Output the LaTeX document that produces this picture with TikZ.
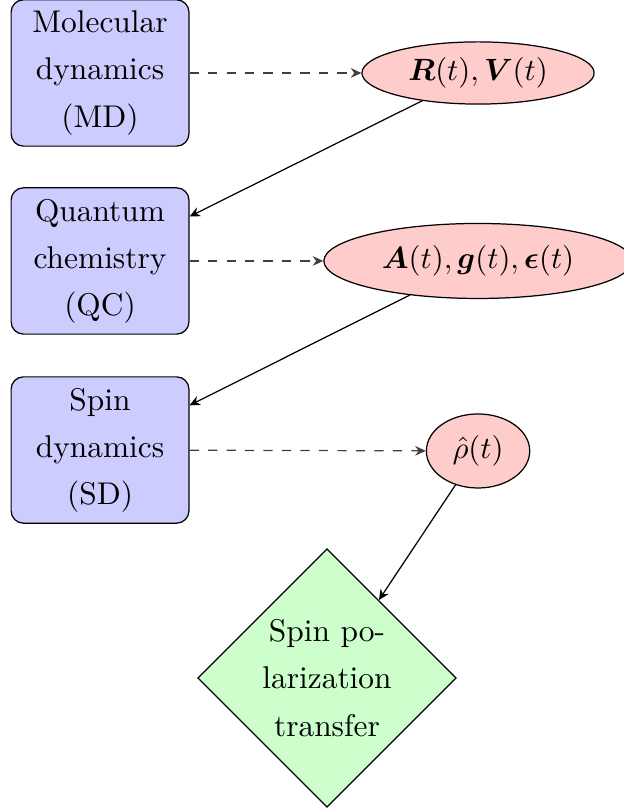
\documentclass[tikz,border=0pt]{standalone}
\usepackage{amsmath}
\usepackage{bm}
\usetikzlibrary{shapes.geometric,arrows.meta}
\begin{document}
\begin{tikzpicture}[
  every node/.style={font=\fontsize{10.2pt}{15.3pt}\selectfont},
  procbox/.style={draw, fill=blue!20, rounded corners=4pt, align=center, text width=1.9cm, minimum width=2.03cm, minimum height=1.67cm, inner sep=0pt},
  dataell/.style={draw, fill=red!20, ellipse, inner sep=0pt},
  resdia/.style={draw, fill=green!20, diamond, aspect=1, align=center, minimum width=2.95cm, minimum height=2.95cm, inner sep=0pt},
  flow/.style={-{Stealth[length=1.2mm,width=1.1mm]}, line width=0.4pt},
  feed/.style={flow, dashed, draw=black!75}
]
\useasboundingbox (0,0) rectangle (7.123,-9.235);
\node[procbox] (md) at (1.142,-0.833) {Molecular\\dynamics\\(MD)};
\node[procbox] (qc) at (1.142,-2.979) {Quantum\\chemistry\\(QC)};
\node[procbox] (sd) at (1.142,-5.137) {Spin\\dynamics\\(SD)};
\node[dataell, minimum width=2.65cm, minimum height=0.71cm] (rv) at (5.457,-0.833) {$\bm{R}(t),\bm{V}(t)$};
\node[dataell, minimum width=3.52cm, minimum height=0.856cm] (ag) at (5.457,-2.979) {$\bm{A}(t),\bm{g}(t),\bm{\epsilon}(t)$};
\node[dataell, minimum width=1.18cm, minimum height=0.845cm] (rho) at (5.457,-5.148) {$\hat{\rho}(t)$};
\node[resdia] (spt) at (3.733,-7.74) {Spin po-\\larization\\transfer};
\draw[feed] (md) -- (rv);
\draw[feed] (qc) -- (ag);
\draw[feed] (sd) -- (rho);
\draw[flow] (rv) -- (qc);
\draw[flow] (ag) -- (sd);
\draw[flow] (rho) -- (spt);
\end{tikzpicture}
\end{document}
